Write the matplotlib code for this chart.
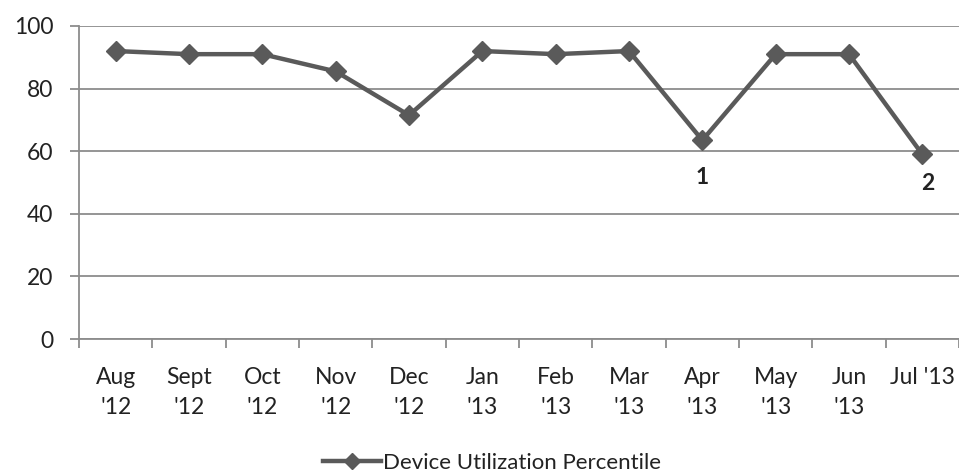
import matplotlib
matplotlib.use("Agg")
import matplotlib.pyplot as plt
from matplotlib.lines import Line2D

plt.rcParams["font.family"] = ["Lato", "DejaVu Sans"]

# ── data ─────────────────────────────────────────────────────────────────────
months = ["Aug\n'12", "Sept\n'12", "Oct\n'12", "Nov\n'12", "Dec\n'12", "Jan\n'13",
          "Feb\n'13", "Mar\n'13", "Apr\n'13", "May\n'13", "Jun\n'13", "Jul '13"]
utilization = [92, 91, 91, 85.5, 71.5, 92, 91, 92, 63.5, 91, 91, 59]
callouts = {8: "1", 11: "2"}          # index -> label
series_name = "Device Utilization Percentile"

LINE = "#5a5a5a"
GRID = "#8c8c8c"
TXT = "#222222"

W, H = 959, 473
fig = plt.figure(figsize=(W / 100, H / 100), dpi=100)
ax = fig.add_axes([79 / W, 1 - 339 / H, 880 / W, (339 - 26) / H])

x = list(range(len(months)))
ax.plot(x, utilization, color=LINE, lw=3.2, marker="D", ms=10, mfc=LINE, mec=LINE,
        zorder=3, clip_on=False)
for i, lab in callouts.items():
    dx, dy = (0, -27) if i == 8 else (4, -21)
    ax.annotate(lab, (i, utilization[i]), xytext=(dx, dy), textcoords="offset points",
                ha="center", va="center", fontsize=16.5, fontweight="bold", color=TXT)

ax.set_xlim(-0.5, len(months) - 0.5)
ax.set_ylim(0, 100)
ax.set_yticks(range(0, 101, 20))
ax.yaxis.grid(True, color=GRID, lw=1.3)
ax.set_axisbelow(True)

ax.set_xticks(x)
ax.set_xticklabels(months, fontsize=16.5, color=TXT, linespacing=1.55)
ax.set_xticks([i - 0.5 for i in range(len(months) + 1)], minor=True)
ax.tick_params(axis="x", which="major", length=0, pad=20)
ax.tick_params(axis="x", which="minor", length=6.5, width=1.3, color=GRID)
ax.tick_params(axis="y", length=6.5, width=1.3, color=GRID, labelsize=16.5,
               labelcolor=TXT, pad=12)

for s in ("top", "right"):
    ax.spines[s].set_visible(False)
for s in ("left", "bottom"):
    ax.spines[s].set_color(GRID)
    ax.spines[s].set_linewidth(1.3)

handle = Line2D([0], [0], color=LINE, lw=3.2, marker="D", ms=8, mfc=LINE, mec=LINE)
fig.legend([handle], [series_name], loc="center", bbox_to_anchor=(0.513, 10 / H),
           frameon=False, fontsize=16, handlelength=2.6, handletextpad=0.1,
           labelcolor=TXT)

fig.savefig("out.png", dpi=100, facecolor="white")
